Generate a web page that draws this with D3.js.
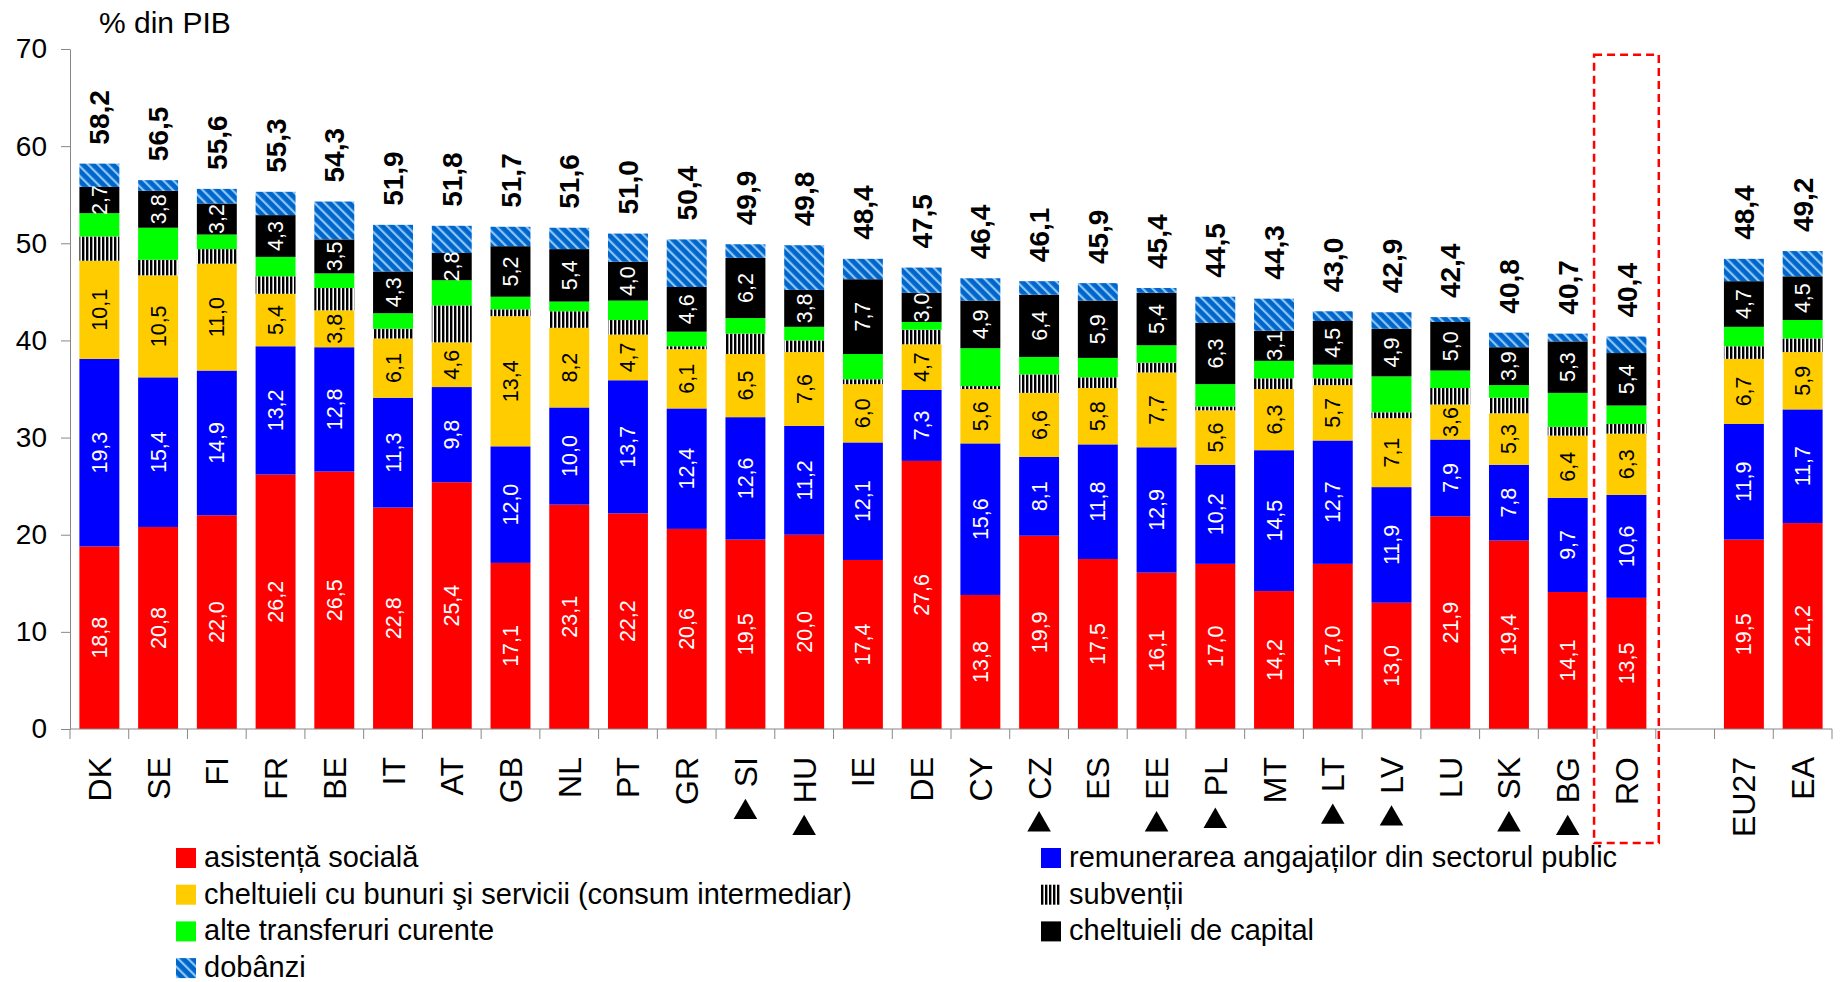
<!DOCTYPE html>
<html>
<head>
<meta charset="utf-8">
<script src="https://cdnjs.cloudflare.com/ajax/libs/d3/7.8.5/d3.min.js"></script>
<style>
    body { margin: 0; background: #fff; }
    text { font-family: "Liberation Sans", Arial, sans-serif; }
</style>
</head>
<body>
<div id="chart-area"></div>
<script>
// Data (% din PIB)
var countries = ["DK","SE","FI","FR","BE","IT","AT","GB","NL","PT","GR","SI","HU","IE","DE",
    "CY","CZ","ES","EE","PL","MT","LT","LV","LU","SK","BG","RO","EU27","EA"];
var marked = ["SI","HU","CZ","EE","PL","LT","LV","SK","BG"];

var social    = [18.8,20.8,22.0,26.2,26.5,22.8,25.4,17.1,23.1,22.2,20.6,19.5,20.0,17.4,27.6,
    13.8,19.9,17.5,16.1,17.0,14.2,17.0,13.0,21.9,19.4,14.1,13.5,19.5,21.2];
var wages     = [19.3,15.4,14.9,13.2,12.8,11.3,9.8,12.0,10.0,13.7,12.4,12.6,11.2,12.1,7.3,
    15.6,8.1,11.8,12.9,10.2,14.5,12.7,11.9,7.9,7.8,9.7,10.6,11.9,11.7];
var goods     = [10.1,10.5,11.0,5.4,3.8,6.1,4.6,13.4,8.2,4.7,6.1,6.5,7.6,6.0,4.7,
    5.6,6.6,5.8,7.7,5.6,6.3,5.7,7.1,3.6,5.3,6.4,6.3,6.7,5.9];
var subsidies = [2.5,1.6,1.5,1.8,2.3,1.0,3.8,0.7,1.7,1.5,0.3,2.1,1.2,0.5,1.5,
    0.3,1.9,1.1,1.0,0.4,1.1,0.7,0.6,1.7,1.6,0.9,1.0,1.3,1.4];
var transfers = [2.4,3.3,1.5,2.0,1.5,1.6,2.6,1.3,1.0,2.0,1.5,1.6,1.4,2.6,0.8,
    3.9,1.8,2.0,1.8,2.3,1.8,1.4,3.7,1.8,1.3,3.5,1.9,2.0,1.9];
var capital   = [2.7,3.8,3.2,4.3,3.5,4.3,2.8,5.2,5.4,4.0,4.6,6.2,3.8,7.7,3.0,
    4.9,6.4,5.9,5.4,6.3,3.1,4.5,4.9,5.0,3.9,5.3,5.4,4.7,4.5];
var interest  = [2.4,1.1,1.5,2.4,3.9,4.8,2.8,2.0,2.2,2.9,4.9,1.4,4.6,2.1,2.6,
    2.3,1.4,1.8,0.5,2.7,3.3,1.0,1.7,0.5,1.5,0.8,1.7,2.3,2.6];
var totals    = [58.2,56.5,55.6,55.3,54.3,51.9,51.8,51.7,51.6,51.0,50.4,49.9,49.8,48.4,47.5,
    46.4,46.1,45.9,45.4,44.5,44.3,43.0,42.9,42.4,40.8,40.7,40.4,48.4,49.2];
var yTicks = [0,10,20,30,40,50,60,70];

var series = [
    { key: "social",    label: "asistență socială", fill: "#FF0000", text: "#fff" },
    { key: "wages",     label: "remunerarea angajaților din sectorul public", fill: "#0000FF", text: "#fff" },
    { key: "goods",     label: "cheltuieli cu bunuri şi servicii (consum intermediar)", fill: "#FFCC00", text: "#000" },
    { key: "subsidies", label: "subvenții", fill: "url(#stripesV)", text: null },
    { key: "transfers", label: "alte transferuri curente", fill: "#00FF00", text: null },
    { key: "capital",   label: "cheltuieli de capital", fill: "#000000", text: "#fff" },
    { key: "interest",  label: "dobânzi", fill: "url(#stripesD)", text: null }
];

var rows = countries.map(function(c, i){
    return { country: c, social: social[i], wages: wages[i], goods: goods[i],
        subsidies: subsidies[i], transfers: transfers[i], capital: capital[i],
        interest: interest[i], total: totals[i] };
});

var margin = { left:70, right:9, top:49, bottom:253 },
    width = 1841 - margin.left - margin.right,
    height = 982 - margin.top - margin.bottom;

var svg = d3.select("#chart-area")
    .append("svg")
    .attr("width", width + margin.left + margin.right)
    .attr("height", height + margin.top + margin.bottom);

// Patterns
var defs = svg.append("defs");
var pV = defs.append("pattern")
    .attr("id", "stripesV")
    .attr("patternUnits", "userSpaceOnUse")
    .attr("width", 4).attr("height", 4);
pV.append("rect").attr("width", 4).attr("height", 4).attr("fill", "#fff");
pV.append("rect").attr("width", 2.4).attr("height", 4).attr("fill", "#000");

var pD = defs.append("pattern")
    .attr("id", "stripesD")
    .attr("patternUnits", "userSpaceOnUse")
    .attr("width", 7).attr("height", 7)
    .attr("patternTransform", "rotate(-45)");
pD.append("rect").attr("width", 7).attr("height", 7).attr("fill", "#0066CC");
pD.append("rect").attr("width", 2.2).attr("height", 7).attr("fill", "#8CC6F5");

var g = svg.append("g")
    .attr("transform", "translate(" + margin.left + ", " + margin.top + ")");

// Scales (one empty slot between RO and EU27)
var domain = countries.slice(0, 27).concat(["gap"], countries.slice(27));
var x = d3.scaleBand()
    .domain(domain)
    .range([0, width])
    .paddingInner(0.32)
    .paddingOuter(0.16);
var y = d3.scaleLinear().domain([0, 70]).range([height, 0]);

// Y-axis
var yAxis = g.append("g")
    .attr("class", "y axis")
    .call(d3.axisLeft(y).tickValues(yTicks).tickSize(9).tickSizeOuter(0).tickPadding(14));
yAxis.select(".domain").attr("stroke", "#888");
yAxis.selectAll(".tick line").attr("stroke", "#888");
yAxis.selectAll(".tick text")
    .attr("font-size", "28px")
    .attr("font-family", "Liberation Sans, Arial, sans-serif")
    .attr("fill", "#000");

g.append("text")
    .attr("x", 29)
    .attr("y", -16)
    .attr("font-size", "30px")
    .text("% din PIB");

// Stacked bars
var stack = d3.stack().keys(series.map(function(s){ return s.key; }));
var layers = stack(rows);

var layer = g.selectAll(".layer")
    .data(layers)
    .enter().append("g")
    .attr("class", "layer")
    .attr("fill", function(d, i){ return series[i].fill; });

layer.selectAll("rect")
    .data(function(d){ return d; })
    .enter().append("rect")
    .attr("x", function(d){ return x(d.data.country); })
    .attr("y", function(d){ return y(d[1]); })
    .attr("width", x.bandwidth())
    .attr("height", function(d){ return y(d[0]) - y(d[1]); });

// Segment labels
layers.forEach(function(l, i){
    if (!series[i].text) return;
    g.selectAll(".lbl-" + series[i].key)
        .data(l)
        .enter().append("text")
        .attr("class", "lbl-" + series[i].key)
        .attr("transform", function(d){
            return "translate(" + (x(d.data.country) + x.bandwidth() / 2) + "," +
                y((d[0] + d[1]) / 2) + ") rotate(-90)";
        })
        .attr("dy", "0.35em")
        .attr("text-anchor", "middle")
        .attr("font-size", "21.5px")
        .attr("fill", series[i].text)
        .text(function(d){ return d3.format(".1f")(d[1] - d[0]).replace(".", ","); });
});

// Totals
g.selectAll(".total")
    .data(rows)
    .enter().append("text")
    .attr("class", "total")
    .attr("transform", function(d){
        var top = d3.sum(series, function(s){ return d[s.key]; });
        return "translate(" + (x(d.country) + x.bandwidth() / 2) + "," + (y(top) - 19) + ") rotate(-90)";
    })
    .attr("dy", "0.36em")
    .attr("font-size", "28px")
    .attr("font-weight", "bold")
    .text(function(d){ return d3.format(".1f")(d.total).replace(".", ","); });

// X-axis line and slot ticks
g.append("line")
    .attr("x1", 0).attr("x2", width)
    .attr("y1", height).attr("y2", height)
    .attr("stroke", "#888");
g.selectAll(".xtick")
    .data(d3.range(domain.length + 1))
    .enter().append("line")
    .attr("class", "xtick")
    .attr("x1", function(i){ return i * x.step(); })
    .attr("x2", function(i){ return i * x.step(); })
    .attr("y1", height).attr("y2", height + 10)
    .attr("stroke", "#888");

// Category labels
var catLabels = g.selectAll(".cat")
    .data(countries)
    .enter().append("text")
    .attr("class", "cat")
    .attr("transform", function(d){
        return "translate(" + (x(d) + x.bandwidth() / 2) + "," + (height + 28) + ") rotate(-90)";
    })
    .attr("dy", "0.36em")
    .attr("text-anchor", "end")
    .attr("font-size", "32px")
    .text(function(d){ return d; });

// Triangle markers under some labels
catLabels.each(function(d){
    if (marked.indexOf(d) < 0) return;
    var len = this.getComputedTextLength();
    g.append("path")
        .attr("d", d3.symbol().type(d3.symbolTriangle).size(240))
        .attr("transform", "translate(" + (x(d) + x.bandwidth() / 2) + "," + (height + 28 + len + 25) + ")")
        .attr("fill", "#000");
});

// Red dashed box around RO
g.append("rect")
    .attr("x", x("RO") - x.step() * x.paddingInner() / 2 - 3)
    .attr("y", y(69.4))
    .attr("width", x.step() + 6)
    .attr("height", height - y(69.4) + 114)
    .attr("fill", "none")
    .attr("stroke", "#FF0000")
    .attr("stroke-width", 2.5)
    .attr("stroke-dasharray", "8,5");

// Legend
var legendCols = [
    { x: 176, keys: ["social", "goods", "transfers", "interest"] },
    { x: 1041, keys: ["wages", "subsidies", "capital"] }
];
legendCols.forEach(function(col){
    col.keys.forEach(function(k, r){
        var s = series.filter(function(e){ return e.key == k; })[0];
        var item = svg.append("g")
            .attr("transform", "translate(" + col.x + "," + (848 + r * 36.7) + ")");
        item.append("rect")
            .attr("width", 20).attr("height", 20)
            .attr("fill", s.fill);
        item.append("text")
            .attr("x", 28)
            .attr("y", 19)
            .attr("font-size", "29px")
            .text(s.label);
    });
});
</script>
</body>
</html>
